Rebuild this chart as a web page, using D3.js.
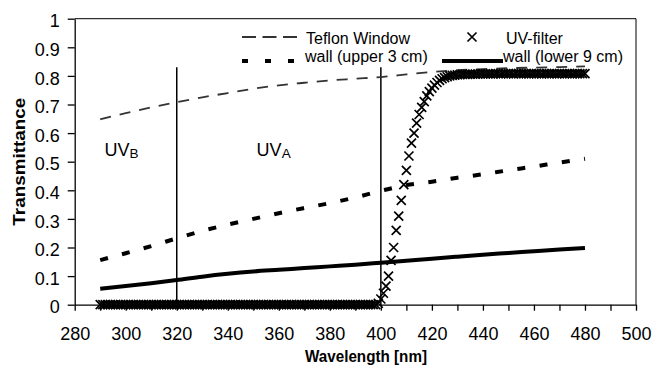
<!DOCTYPE html>
<html>
<head>
<meta charset="utf-8">
<script src="https://cdn.jsdelivr.net/npm/d3@7"></script>
<style>
  html, body { margin: 0; padding: 0; background: #fff; }
  svg { display: block; font-family: "Liberation Sans", Arial, sans-serif; }
</style>
</head>
<body>
<div id="chart"></div>
<script>
// wavelengths sampled every 10 nm for the window / wall curves
const lineWavelengths = [290, 300, 310, 320, 330, 340, 350, 360, 370, 380,
                         390, 400, 410, 420, 430, 440, 450, 460, 470, 480];
const teflonWindow = [0.648, 0.67, 0.69, 0.708, 0.725, 0.74, 0.755, 0.767, 0.776, 0.784,
                      0.79, 0.796, 0.805, 0.814, 0.82, 0.824, 0.827, 0.829, 0.831, 0.833];
const wallUpper = [0.156, 0.18, 0.205, 0.232, 0.258, 0.28, 0.30, 0.32, 0.338, 0.355,
                   0.375, 0.398, 0.418, 0.43, 0.444, 0.456, 0.47, 0.483, 0.497, 0.51];
const wallLower = [0.056, 0.065, 0.075, 0.086, 0.098, 0.108, 0.116, 0.122, 0.128, 0.134,
                   0.14, 0.147, 0.154, 0.161, 0.168, 0.175, 0.181, 0.187, 0.193, 0.198];

// UV-filter, sampled every 1 nm
const uvWavelengths = [
  290, 291, 292, 293, 294, 295, 296, 297, 298, 299,
  300, 301, 302, 303, 304, 305, 306, 307, 308, 309,
  310, 311, 312, 313, 314, 315, 316, 317, 318, 319,
  320, 321, 322, 323, 324, 325, 326, 327, 328, 329,
  330, 331, 332, 333, 334, 335, 336, 337, 338, 339,
  340, 341, 342, 343, 344, 345, 346, 347, 348, 349,
  350, 351, 352, 353, 354, 355, 356, 357, 358, 359,
  360, 361, 362, 363, 364, 365, 366, 367, 368, 369,
  370, 371, 372, 373, 374, 375, 376, 377, 378, 379,
  380, 381, 382, 383, 384, 385, 386, 387, 388, 389,
  390, 391, 392, 393, 394, 395, 396, 397, 398, 399,
  400, 401, 402, 403, 404, 405, 406, 407, 408, 409,
  410, 411, 412, 413, 414, 415, 416, 417, 418, 419,
  420, 421, 422, 423, 424, 425, 426, 427, 428, 429,
  430, 431, 432, 433, 434, 435, 436, 437, 438, 439,
  440, 441, 442, 443, 444, 445, 446, 447, 448, 449,
  450, 451, 452, 453, 454, 455, 456, 457, 458, 459,
  460, 461, 462, 463, 464, 465, 466, 467, 468, 469,
  470, 471, 472, 473, 474, 475, 476, 477, 478, 479,
  480
];
const uvFilter = [
  0, 0, 0, 0, 0, 0, 0, 0, 0, 0,
  0, 0, 0, 0, 0, 0, 0, 0, 0, 0,
  0, 0, 0, 0, 0, 0, 0, 0, 0, 0,
  0, 0, 0, 0, 0, 0, 0, 0, 0, 0,
  0, 0, 0, 0, 0, 0, 0, 0, 0, 0,
  0, 0, 0, 0, 0, 0, 0, 0, 0, 0,
  0, 0, 0, 0, 0, 0, 0, 0, 0, 0,
  0, 0, 0, 0, 0, 0, 0, 0, 0, 0,
  0, 0, 0, 0, 0, 0, 0, 0, 0, 0,
  0, 0, 0, 0, 0, 0, 0, 0, 0, 0,
  0, 0, 0, 0, 0, 0, 0, 0, 0, 0.005,
  0.02, 0.04, 0.065, 0.10, 0.155, 0.20, 0.26, 0.31, 0.365, 0.42,
  0.47, 0.52, 0.565, 0.60, 0.635, 0.665, 0.69, 0.71, 0.73, 0.745,
  0.757, 0.768, 0.777, 0.784, 0.79, 0.794, 0.797, 0.80, 0.802, 0.803,
  0.804, 0.804, 0.805, 0.805, 0.805, 0.806, 0.806, 0.806, 0.806, 0.807,
  0.807, 0.807, 0.807, 0.807, 0.807, 0.808, 0.808, 0.807, 0.808, 0.808,
  0.808, 0.808, 0.807, 0.808, 0.808, 0.808, 0.808, 0.808, 0.807, 0.808,
  0.808, 0.808, 0.808, 0.807, 0.808, 0.808, 0.808, 0.808, 0.808, 0.807,
  0.808, 0.808, 0.808, 0.808, 0.808, 0.807, 0.808, 0.808, 0.808, 0.808,
  0.808
];

const xTicks = [280, 290, 300, 310, 320, 330, 340, 350, 360, 370, 380, 390, 400,
                410, 420, 430, 440, 450, 460, 470, 480, 490, 500];
const yTicks = [0, 0.1, 0.2, 0.3, 0.4, 0.5, 0.6, 0.7, 0.8, 0.9, 1];

// UV band boundaries and labels
const boundaries = [320, 400];
const boundaryTop = 0.83;
const bandLabels = [
  { sub: "B", nm: 291.7, t: 0.52 },
  { sub: "A", nm: 351.3, t: 0.52 }
];

const width = 653, height = 368;
const margin = { top: 18.7, right: 17, bottom: 63.3, left: 74.7 };

const svg = d3.select("#chart")
  .append("svg")
  .attr("width", width)
  .attr("height", height);

const x = d3.scaleLinear().domain([280, 500]).range([margin.left, width - margin.right]);
const y = d3.scaleLinear().domain([0, 1]).range([height - margin.bottom, margin.top]);

// plot frame (top and right)
svg.append("path")
  .attr("d", `M${x(280)},${y(1)}H${x(500)}V${y(0)}`)
  .attr("fill", "none")
  .attr("stroke", "#000")
  .attr("stroke-width", 1);

// axes
const xAxis = svg.append("g")
  .attr("transform", `translate(0,${y(0)})`)
  .call(d3.axisBottom(x)
    .tickValues(xTicks)
    .tickFormat(d => d % 20 === 0 ? d : "")
    .tickSize(6)
    .tickSizeOuter(0)
    .tickPadding(17));
xAxis.selectAll("text").attr("font-size", 18).attr("fill", "#000")
  .attr("font-family", "Liberation Sans, Arial, sans-serif");

const yAxis = svg.append("g")
  .attr("transform", `translate(${x(280)},0)`)
  .call(d3.axisLeft(y)
    .tickValues(yTicks)
    .tickFormat(d3.format("~g"))
    .tickSize(7)
    .tickSizeOuter(0)
    .tickPadding(8));
yAxis.selectAll("text").attr("font-size", 18).attr("fill", "#000").attr("dy", "0.45em")
  .attr("font-family", "Liberation Sans, Arial, sans-serif");

svg.selectAll(".domain, .tick line").attr("stroke", "#000").attr("stroke-width", 1.3);

// axis titles
svg.append("text")
  .attr("x", 366)
  .attr("y", 361.7)
  .attr("text-anchor", "middle")
  .attr("font-size", 17)
  .attr("font-weight", "bold")
  .attr("textLength", 122)
  .attr("lengthAdjust", "spacingAndGlyphs")
  .text("Wavelength [nm]");

svg.append("text")
  .attr("transform", `translate(25,${(y(0) + y(1)) / 2}) rotate(-90)`)
  .attr("text-anchor", "middle")
  .attr("font-size", 17)
  .attr("font-weight", "bold")
  .attr("textLength", 128)
  .attr("lengthAdjust", "spacingAndGlyphs")
  .text("Transmittance");

// UV band boundaries
svg.append("g")
  .selectAll("line")
  .data(boundaries)
  .join("line")
  .attr("x1", d => x(d)).attr("x2", d => x(d))
  .attr("y1", y(0)).attr("y2", y(boundaryTop))
  .attr("stroke", "#000")
  .attr("stroke-width", 1.5);

const bandText = svg.append("g")
  .selectAll("text")
  .data(bandLabels)
  .join("text")
  .attr("x", d => x(d.nm))
  .attr("y", d => y(d.t))
  .attr("font-size", 18);
bandText.append("tspan").text("UV");
bandText.append("tspan").attr("font-size", 13.5).attr("dy", 2).text(d => d.sub);

// curves
const line = d3.line()
  .x(d => x(d[0]))
  .y(d => y(d[1]))
  .curve(d3.curveMonotoneX);

const zip = vals => lineWavelengths.map((w, i) => [w, vals[i]]);

svg.append("path")
  .attr("d", line(zip(wallLower)))
  .attr("fill", "none")
  .attr("stroke", "#000")
  .attr("stroke-width", 4);

svg.append("path")
  .attr("d", line(zip(wallUpper)))
  .attr("fill", "none")
  .attr("stroke", "#000")
  .attr("stroke-width", 4)
  .attr("stroke-dasharray", "8,14.5");

svg.append("path")
  .attr("d", line(zip(teflonWindow)))
  .attr("fill", "none")
  .attr("stroke", "#333")
  .attr("stroke-width", 1.8)
  .attr("stroke-dasharray", "11,9");

// UV-filter markers
const cross = "M-4.5,-4.5L4.5,4.5M-4.5,4.5L4.5,-4.5";
svg.append("g")
  .selectAll("path")
  .data(uvWavelengths.map((w, i) => [w, uvFilter[i]]))
  .join("path")
  .attr("transform", d => `translate(${x(d[0])},${y(d[1])})`)
  .attr("d", cross)
  .attr("fill", "none")
  .attr("stroke", "#000")
  .attr("stroke-width", 1.7);

// legend
const legend = svg.append("g").attr("font-size", 16);

legend.append("line")
  .attr("x1", 242).attr("x2", 297).attr("y1", 37).attr("y2", 37)
  .attr("stroke", "#333").attr("stroke-width", 1.8)
  .attr("stroke-dasharray", "14,6.5");
legend.append("text").attr("x", 306).attr("y", 44).text("Teflon Window");

legend.append("path")
  .attr("transform", "translate(472,37)")
  .attr("d", cross)
  .attr("fill", "none").attr("stroke", "#000").attr("stroke-width", 1.7);
legend.append("text").attr("x", 506).attr("y", 44).text("UV-filter");

legend.append("line")
  .attr("x1", 242).attr("x2", 297).attr("y1", 61).attr("y2", 61)
  .attr("stroke", "#000").attr("stroke-width", 4)
  .attr("stroke-dasharray", "6,17");
legend.append("text").attr("x", 305).attr("y", 62).text("wall (upper 3 cm)");

legend.append("line")
  .attr("x1", 442).attr("x2", 503).attr("y1", 61).attr("y2", 61)
  .attr("stroke", "#000").attr("stroke-width", 4);
legend.append("text").attr("x", 503).attr("y", 62).text("wall (lower 9 cm)");
</script>
</body>
</html>
